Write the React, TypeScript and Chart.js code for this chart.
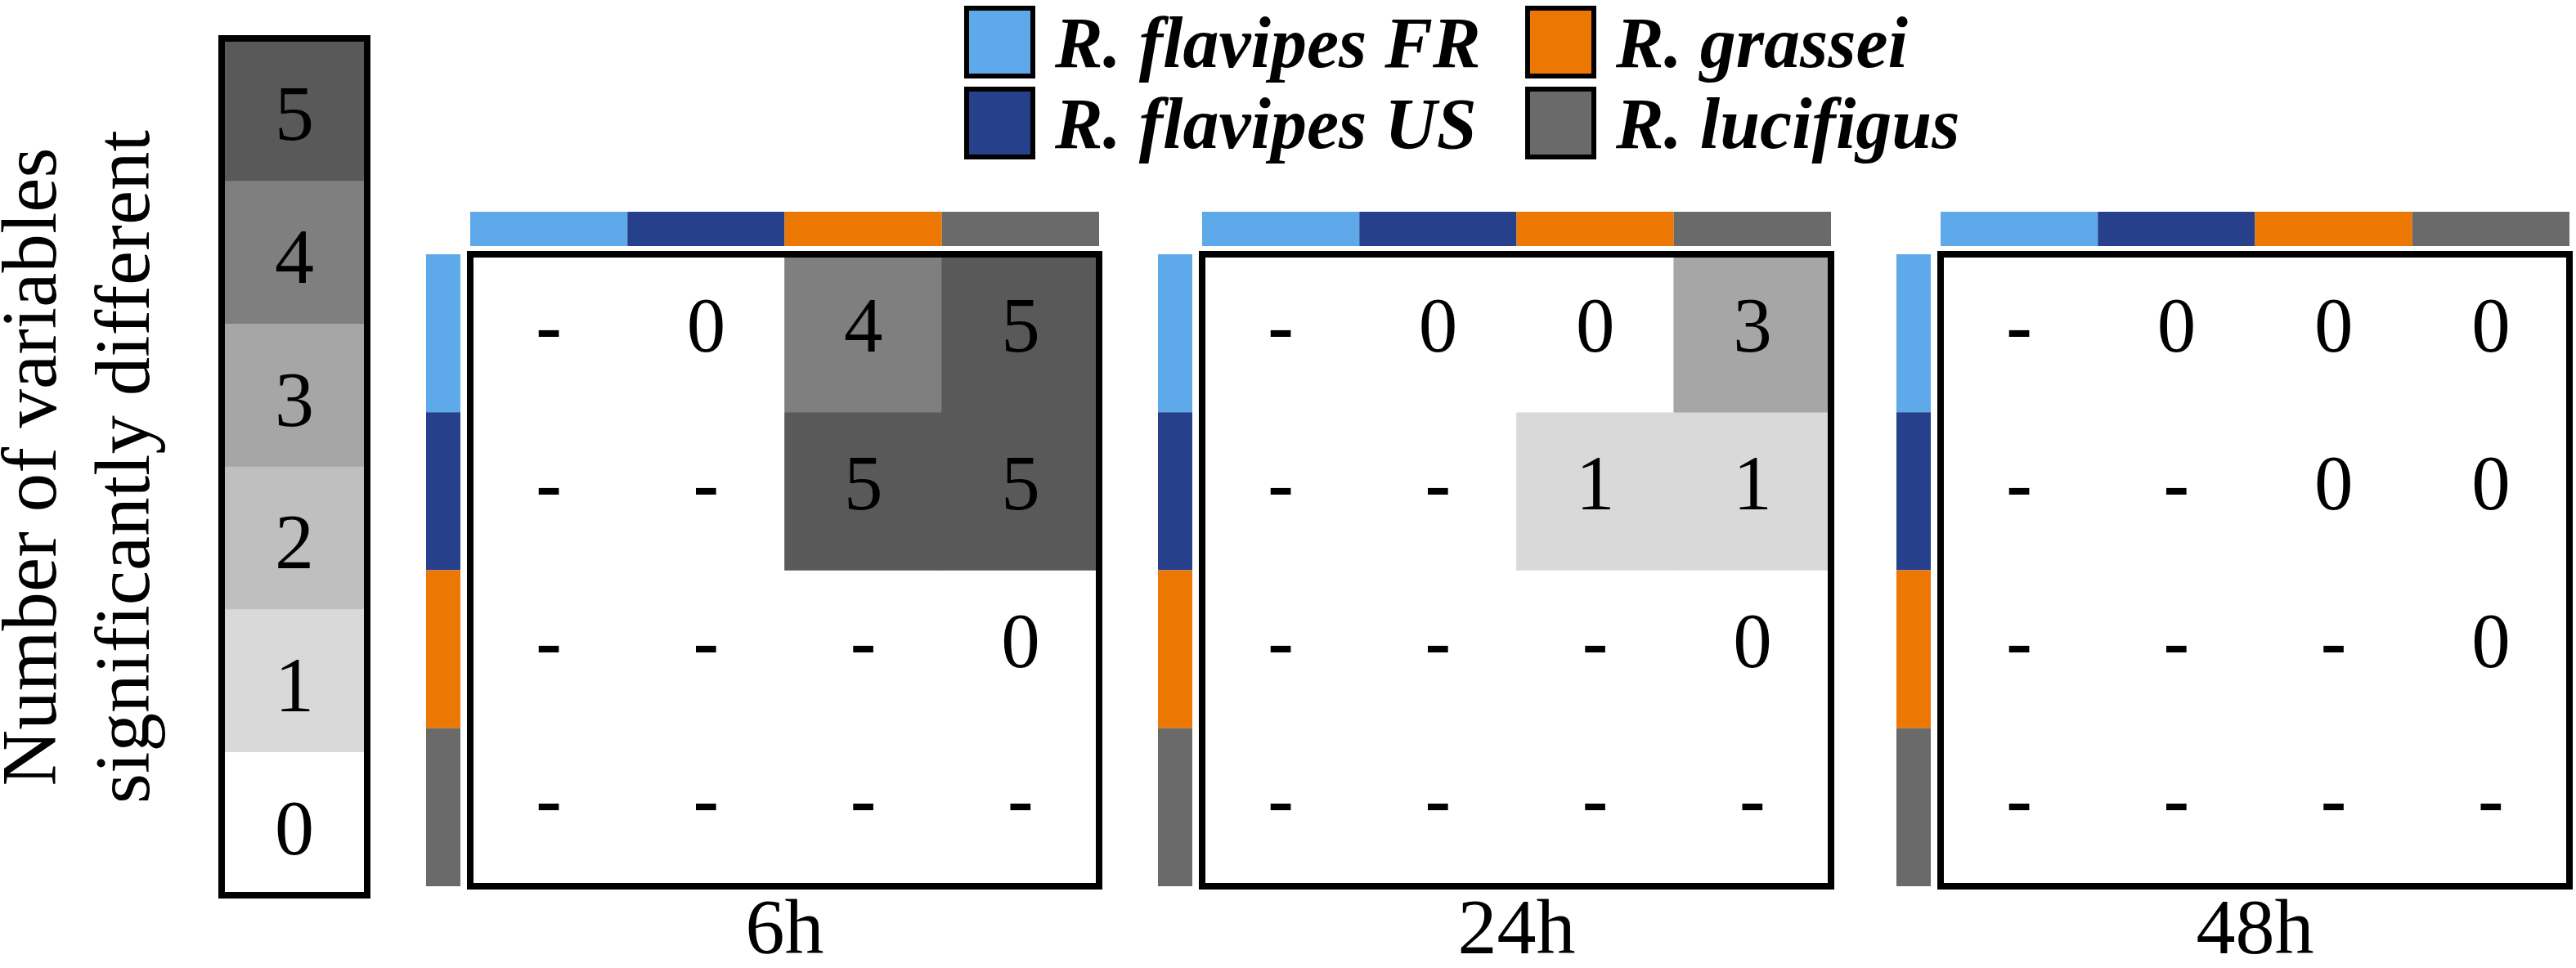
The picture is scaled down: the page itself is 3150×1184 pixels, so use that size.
import React, { useEffect, useRef } from 'react';
import { Chart, registerables } from 'chart.js';

Chart.register(...registerables);

// ---------------- data ----------------
const species = ['R. flavipes FR', 'R. flavipes US', 'R. grassei', 'R. lucifigus'];
const speciesColors = ['#5DA9E9', '#27408B', '#ED7703', '#6A6A6A'];
// legend grid: [column][row] -> species index
const legendColumns = [
  [0, 1],
  [2, 3],
];

const timepoints = ['6h', '24h', '48h'];
// rows / columns follow `species`; null = "-"
const diff6h = [
  [null, 0, 4, 5],
  [null, null, 5, 5],
  [null, null, null, 0],
  [null, null, null, null],
];
const diff24h = [
  [null, 0, 0, 3],
  [null, null, 1, 1],
  [null, null, null, 0],
  [null, null, null, null],
];
const diff48h = [
  [null, 0, 0, 0],
  [null, null, 0, 0],
  [null, null, null, 0],
  [null, null, null, null],
];
const panelMatrices = [diff6h, diff24h, diff48h];

const levels = [0, 1, 2, 3, 4, 5];
const levelColors = ['#FFFFFF', '#D9D9D9', '#BFBFBF', '#A6A6A6', '#7F7F7F', '#595959'];
const colorbarTitle = ['Number of variables', 'significantly different'];

// ---------------- layout / style ----------------
const FONT = "'Liberation Serif', 'Times New Roman', Times, serif";
const PANEL_LEFT = [575, 1470, 2373];
const GRID_W = 769;
const PANEL_TOP = 240;
const PANEL_PAD_LEFT = 70;
const PANEL_PAD_RIGHT = 12;
const PANEL_PAD_TOP = 71;
const PAGE_H = 1184;

const LEGEND_LEFT = 1150;
const LEGEND_COL_X = [29, 715];
const LEGEND_ROW_Y = [7, 106];
const SWATCH_W = 87;
const SWATCH_H = 89;
const SWATCH_BORDER = 6;

const matrixDecor = {
  id: 'matrixDecor',
  afterDatasetsDraw(chart: any, _args: any, opts: any) {
    const { ctx, chartArea } = chart;
    const x = chart.scales.x;
    const y = chart.scales.y;
    const matrix: (number | null)[][] = opts.values;
    const n = species.length;
    const colW = (x.right - x.left) / n;
    ctx.save();
    // top colour strip
    for (let c = 0; c < n; c++) {
      const cx = x.getPixelForValue(c);
      ctx.fillStyle = speciesColors[c];
      ctx.fillRect(cx - colW / 2, chartArea.top - 52, colW, 42);
    }
    // left colour strip
    for (let r = 0; r < n; r++) {
      const t = y.getPixelForValue(r);
      const b = y.getPixelForValue(r + 1);
      ctx.fillStyle = speciesColors[r];
      ctx.fillRect(chartArea.left - 54, t, 42, b - t);
    }
    // frame
    ctx.strokeStyle = '#000';
    ctx.lineWidth = 8;
    ctx.strokeRect(chartArea.left, chartArea.top, chartArea.right - chartArea.left, chartArea.bottom - chartArea.top);
    // values
    ctx.fillStyle = '#000';
    ctx.textAlign = 'center';
    ctx.textBaseline = 'alphabetic';
    for (let r = 0; r < n; r++) {
      for (let c = 0; c < n; c++) {
        const v = matrix[r][c];
        const cx = x.getPixelForValue(c);
        const cy = y.getPixelForValue(r + 0.5);
        if (v == null) {
          ctx.font = `bold 95px ${FONT}`;
          ctx.fillText('-', cx, cy + 22);
        } else {
          ctx.font = `95px ${FONT}`;
          ctx.fillText(String(v), cx, cy + 22);
        }
      }
    }
    ctx.restore();
  },
};

const colorbarDecor = {
  id: 'colorbarDecor',
  afterDatasetsDraw(chart: any) {
    const { ctx, chartArea } = chart;
    const y = chart.scales.y;
    ctx.save();
    ctx.strokeStyle = '#000';
    ctx.lineWidth = 8;
    ctx.strokeRect(chartArea.left, chartArea.top, chartArea.right - chartArea.left, chartArea.bottom - chartArea.top);
    ctx.fillStyle = '#000';
    ctx.textAlign = 'center';
    ctx.textBaseline = 'alphabetic';
    ctx.font = `96px ${FONT}`;
    const cx = (chartArea.left + chartArea.right) / 2;
    levels.forEach((v) => {
      ctx.fillText(String(v), cx, y.getPixelForValue(v + 0.5) + 37);
    });
    ctx.restore();
  },
};

const speciesLegend = {
  id: 'speciesLegend',
  afterDraw(chart: any) {
    const { ctx } = chart;
    ctx.save();
    legendColumns.forEach((col, ci) => {
      col.forEach((si, ri) => {
        const x0 = LEGEND_COL_X[ci];
        const y0 = LEGEND_ROW_Y[ri];
        const h = SWATCH_BORDER / 2;
        ctx.fillStyle = speciesColors[si];
        ctx.fillRect(x0 + h, y0 + h, SWATCH_W - SWATCH_BORDER, SWATCH_H - SWATCH_BORDER);
        ctx.strokeStyle = '#000';
        ctx.lineWidth = SWATCH_BORDER;
        ctx.strokeRect(x0 + h, y0 + h, SWATCH_W - SWATCH_BORDER, SWATCH_H - SWATCH_BORDER);
        ctx.fillStyle = '#000';
        ctx.textAlign = 'left';
        ctx.textBaseline = 'alphabetic';
        ctx.font = `italic bold 88px ${FONT}`;
        ctx.fillText(species[si], x0 + SWATCH_W + 24, y0 + 75);
      });
    });
    ctx.restore();
  },
};

function makePanel(canvas: HTMLCanvasElement, matrix: (number | null)[][], label: string) {
  return new Chart(canvas, {
    type: 'bar',
    data: {
      labels: species,
      datasets: matrix.map((row, r) => ({
        label: species[r],
        data: species.map(() => [r, r + 1]),
        backgroundColor: row.map((v) => (v == null ? '#FFFFFF' : levelColors[v])),
        borderWidth: 0,
        grouped: false,
        barPercentage: 1,
        categoryPercentage: 1,
      })),
    } as any,
    options: {
      responsive: false,
      animation: false,
      events: [],
      layout: { padding: { left: PANEL_PAD_LEFT, right: PANEL_PAD_RIGHT, top: PANEL_PAD_TOP, bottom: 0 } },
      plugins: {
        legend: { display: false },
        tooltip: { enabled: false },
        matrixDecor: { values: matrix },
      } as any,
      scales: {
        x: {
          type: 'category',
          display: true,
          ticks: { display: false },
          grid: { display: false, drawTicks: false },
          border: { display: false },
          title: {
            display: true,
            text: label,
            color: '#000',
            font: { family: FONT, size: 96, lineHeight: 0.9 },
            padding: { top: 13.6, bottom: 0 },
          },
        },
        y: { type: 'linear', min: 0, max: 4, reverse: true, display: false },
      },
    } as any,
    plugins: [matrixDecor],
  });
}

function makeColorbar(canvas: HTMLCanvasElement) {
  return new Chart(canvas, {
    type: 'bar',
    data: {
      labels: ['levels'],
      datasets: levels.map((v) => ({
        label: String(v),
        data: [[v, v + 1]],
        backgroundColor: levelColors[v],
        borderWidth: 0,
        grouped: false,
        barPercentage: 1,
        categoryPercentage: 1,
      })),
    } as any,
    options: {
      responsive: false,
      animation: false,
      events: [],
      layout: { padding: { left: 0, right: 10, top: 47, bottom: 89 } },
      plugins: { legend: { display: false }, tooltip: { enabled: false } },
      scales: {
        x: { display: false },
        y: {
          type: 'linear',
          min: 0,
          max: 6,
          display: true,
          ticks: { display: false },
          grid: { display: false, drawTicks: false },
          border: { display: false },
          title: {
            display: true,
            text: colorbarTitle,
            color: '#000',
            font: { family: FONT, size: 95, lineHeight: 1.2 },
            padding: { top: 0, bottom: 57 },
          },
        },
      },
    } as any,
    plugins: [colorbarDecor],
  });
}

function makeLegend(canvas: HTMLCanvasElement) {
  return new Chart(canvas, {
    type: 'bar',
    data: {
      labels: [],
      datasets: species.map((s, i) => ({ label: s, data: [], backgroundColor: speciesColors[i] })),
    },
    options: {
      responsive: false,
      animation: false,
      events: [],
      layout: { padding: 0 },
      scales: { x: { display: false }, y: { display: false } },
      plugins: {
        tooltip: { enabled: false },
        legend: { display: false },
      },
    } as any,
    plugins: [speciesLegend],
  });
}

export default function App() {
  const cbRef = useRef<HTMLCanvasElement | null>(null);
  const legRef = useRef<HTMLCanvasElement | null>(null);
  const p0 = useRef<HTMLCanvasElement | null>(null);
  const p1 = useRef<HTMLCanvasElement | null>(null);
  const p2 = useRef<HTMLCanvasElement | null>(null);
  const panelRefs = [p0, p1, p2];

  useEffect(() => {
    const charts: Chart[] = [];
    if (cbRef.current) charts.push(makeColorbar(cbRef.current));
    if (legRef.current) charts.push(makeLegend(legRef.current));
    panelRefs.forEach((ref, i) => {
      if (ref.current) charts.push(makePanel(ref.current, panelMatrices[i], timepoints[i]));
    });
    return () => charts.forEach((c) => c.destroy());
  }, []);

  const panelW = GRID_W + PANEL_PAD_LEFT + PANEL_PAD_RIGHT;
  const panelH = PAGE_H - PANEL_TOP;

  return (
    <div
      style={{
        position: 'absolute',
        left: 0,
        top: 0,
        width: 3150,
        height: PAGE_H,
        overflow: 'hidden',
        background: '#fff',
      }}
    >
      <canvas
        ref={cbRef}
        width={473}
        height={PAGE_H}
        style={{ position: 'absolute', left: -14, top: 0, width: 473, height: PAGE_H }}
      />
      <canvas
        ref={legRef}
        width={1300}
        height={220}
        style={{ position: 'absolute', left: LEGEND_LEFT, top: 0, width: 1300, height: 220 }}
      />
      {panelRefs.map((ref, i) => (
        <canvas
          key={timepoints[i]}
          ref={ref}
          width={panelW}
          height={panelH}
          style={{
            position: 'absolute',
            left: PANEL_LEFT[i] - PANEL_PAD_LEFT,
            top: PANEL_TOP,
            width: panelW,
            height: panelH,
          }}
        />
      ))}
    </div>
  );
}
